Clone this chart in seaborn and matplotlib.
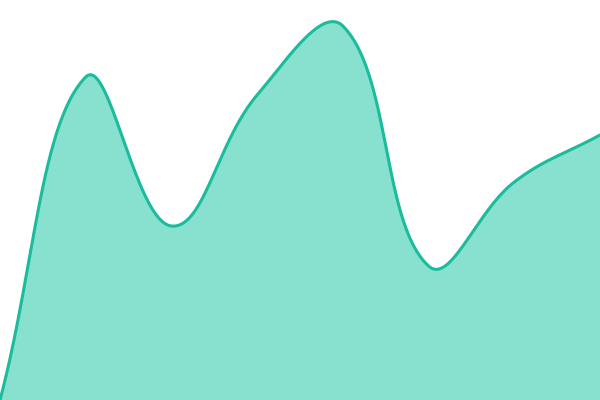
import numpy as np
import pandas as pd
import matplotlib
matplotlib.use("Agg")
import matplotlib.pyplot as plt
import seaborn as sns

# data
x_vals = [0, 1, 2, 3, 4, 5, 6, 7]
y_vals = [0, 323, 174, 305, 374, 134, 218, 265]

LINE = "#1abc9c"
FILL = "#88e0cf"
TENSION = 0.4
Y_MAX = 400


def spline_curve(x, y, t=0.4, xscale=600 / 7, n=60):
    x = np.asarray(x, float)
    y = np.asarray(y, float)
    P = np.column_stack([x * xscale, y])
    k = len(P)
    cps = []
    for i in range(k):
        prev = P[max(i - 1, 0)]
        cur = P[i]
        nxt = P[min(i + 1, k - 1)]
        d01 = np.hypot(*(cur - prev))
        d12 = np.hypot(*(nxt - cur))
        tot = d01 + d12
        s01 = d01 / tot if tot else 0
        s12 = d12 / tot if tot else 0
        c_prev = cur - t * s01 * (nxt - prev)
        c_next = cur + t * s12 * (nxt - prev)
        c_prev[1] = np.clip(c_prev[1], 0, Y_MAX)
        c_next[1] = np.clip(c_next[1], 0, Y_MAX)
        cps.append((c_prev, c_next))
    xs, ys = [], []
    for i in range(k - 1):
        u = np.linspace(0, 1, n, endpoint=(i == k - 2))[:, None]
        p0, p1, p2, p3 = P[i], cps[i][1], cps[i + 1][0], P[i + 1]
        b = (1 - u) ** 3 * p0 + 3 * (1 - u) ** 2 * u * p1 + 3 * (1 - u) * u**2 * p2 + u**3 * p3
        xs.append(b[:, 0] / xscale)
        ys.append(b[:, 1])
    return np.concatenate(xs), np.concatenate(ys)


sx, sy = spline_curve(x_vals, y_vals, TENSION)
df = pd.DataFrame({"x": sx, "y": sy})

sns.set_theme(style="white")
fig = plt.figure(figsize=(6, 4), dpi=100)
ax = fig.add_axes([0, 0, 1, 1])
ax.fill_between(df["x"], 0, df["y"], color=FILL, linewidth=0)
sns.lineplot(data=df, x="x", y="y", ax=ax, color=LINE, linewidth=2.2, sort=False)
ax.set_xlim(0, 7)
ax.set_ylim(0, Y_MAX)
ax.axis("off")
fig.savefig("out.png", dpi=100)
